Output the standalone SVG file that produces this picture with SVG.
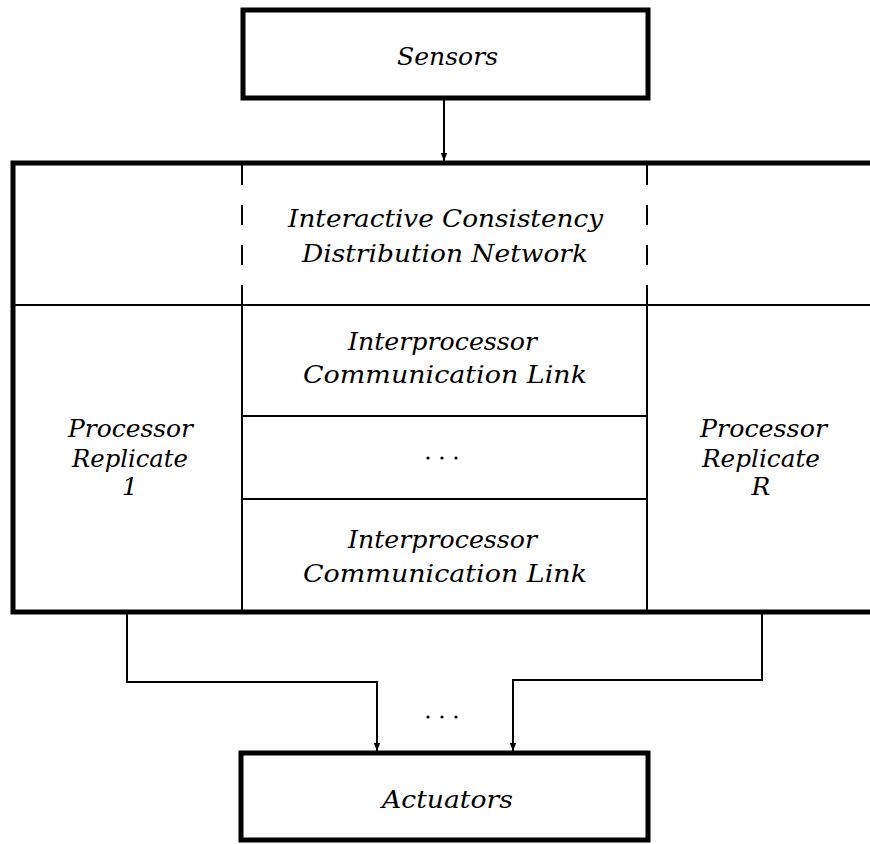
<svg xmlns="http://www.w3.org/2000/svg" width="870" height="844" viewBox="0 0 870 844">
<style>
.thick{fill:none;stroke:#000;stroke-width:5}
.thin{fill:none;stroke:#000;stroke-width:2}
.dash{fill:none;stroke:#000;stroke-width:2;stroke-dasharray:20 20}
text{font-family:"DejaVu Serif","Liberation Serif",serif;font-style:italic;font-size:25px;fill:#000}
.dot{fill:#000}
</style>
<defs>
<marker id="ah" viewBox="0 0 10 10" refX="10" refY="5" markerWidth="4" markerHeight="4" orient="auto" markerUnits="strokeWidth">
<path d="M0,1 L10,5 L0,9 Z" fill="#000"/>
</marker>
</defs>
<rect width="870" height="844" fill="#fff"/>

<g id="sensors">
<rect class="thick" x="243" y="10" width="405" height="88"/>
<text x="397" y="65" textLength="101" lengthAdjust="spacingAndGlyphs">Sensors</text>
</g>

<g id="system">
<path class="thick" d="M875,163 L13,163 L13,612 L875,612"/>
<line class="thin" x1="13" y1="305" x2="872" y2="305"/>
<line class="dash" x1="242" y1="165" x2="242" y2="305"/>
<line class="dash" x1="647" y1="165" x2="647" y2="305"/>
<line class="thin" x1="242" y1="305" x2="242" y2="612"/>
<line class="thin" x1="647" y1="305" x2="647" y2="612"/>
</g>

<g id="icdn">
<text x="288" y="227" textLength="315" lengthAdjust="spacingAndGlyphs">Interactive Consistency</text>
<text x="302" y="262" textLength="286" lengthAdjust="spacingAndGlyphs">Distribution Network</text>
</g>

<g id="link1">
<text x="348" y="350" textLength="189" lengthAdjust="spacingAndGlyphs">Interprocessor</text>
<text x="303" y="383" textLength="284" lengthAdjust="spacingAndGlyphs">Communication Link</text>
<line class="thin" x1="242" y1="416" x2="647" y2="416"/>
</g>

<g id="link-dots">
<circle class="dot" cx="428" cy="458" r="1.6"/>
<circle class="dot" cx="442" cy="458" r="1.6"/>
<circle class="dot" cx="456" cy="458" r="1.6"/>
</g>

<g id="linkN">
<line class="thin" x1="242" y1="499" x2="647" y2="499"/>
<text x="348" y="548" textLength="189" lengthAdjust="spacingAndGlyphs">Interprocessor</text>
<text x="303" y="582" textLength="284" lengthAdjust="spacingAndGlyphs">Communication Link</text>
</g>

<g id="proc1">
<text x="68" y="437" textLength="125" lengthAdjust="spacingAndGlyphs">Processor</text>
<text x="72" y="467" textLength="116" lengthAdjust="spacingAndGlyphs">Replicate</text>
<text x="130" y="495" text-anchor="middle">1</text>
</g>

<g id="procR">
<text x="700" y="437" textLength="127" lengthAdjust="spacingAndGlyphs">Processor</text>
<text x="702" y="467" textLength="118" lengthAdjust="spacingAndGlyphs">Replicate</text>
<text x="761" y="495" text-anchor="middle">R</text>
</g>

<g id="actuators">
<rect class="thick" x="241" y="753" width="407" height="87"/>
<text x="382" y="808" textLength="131" lengthAdjust="spacingAndGlyphs">Actuators</text>
</g>

<g id="connectors">
<line class="thin" x1="444" y1="100" x2="444" y2="161" marker-end="url(#ah)"/>
<polyline class="thin" points="127,614 127,682 377,682 377,751" marker-end="url(#ah)"/>
<polyline class="thin" points="762,614 762,680 513,680 513,751" marker-end="url(#ah)"/>
<circle class="dot" cx="428" cy="717" r="1.6"/>
<circle class="dot" cx="442" cy="717" r="1.6"/>
<circle class="dot" cx="456" cy="717" r="1.6"/>
</g>
</svg>
